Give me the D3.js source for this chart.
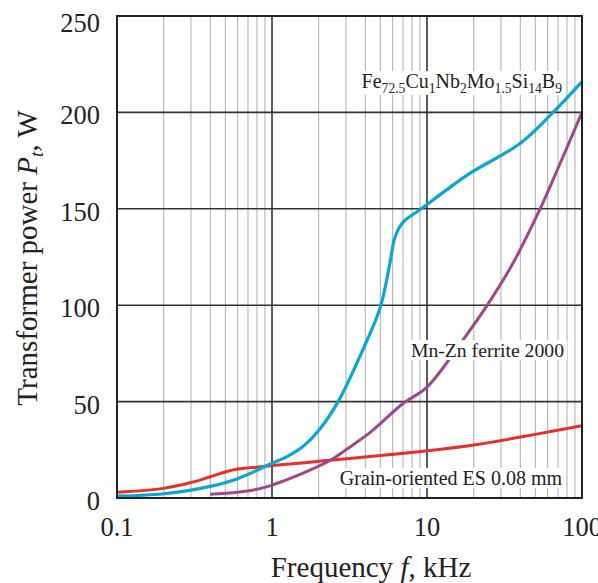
<!DOCTYPE html>
<html>
<head>
<meta charset="utf-8">
<script src="https://cdn.jsdelivr.net/npm/d3@7"></script>
<style>
body{margin:0;background:#fff;}
text{font-family:"Liberation Serif","DejaVu Serif",serif;fill:#222;}
</style>
</head>
<body>
<div class="chart"></div>
<script>
var w = 598, h = 583;

// curves, [frequency kHz, power W]
var feCurve = [[0.1,1],[0.2,2.2],[0.4,6],[0.6,10],[1,18],[1.25,21.5],[1.6,27],[2,35],[2.67,50],[3.86,77],[5,99],[5.8,123],[6.2,135],[7,143],[9,149.5],[14,161],[19,168.5],[40,184],[65,200],[100,216]];
var ferriteCurve = [[0.4,2],[0.6,3],[0.8,4.5],[1,6.7],[1.3,10],[1.6,13],[2.4,19.7],[3,25],[4.3,34],[7,49],[10,57.5],[17.6,83.5],[24,99],[36,122],[53,149],[65,165],[100,200]];
var esCurve = [[0.1,3],[0.2,5],[0.3,8],[0.4,11],[0.5,13.5],[0.6,15],[0.8,16],[1,16.8],[2,19],[5,22],[10,24.5],[20,27.5],[50,33],[100,37.5]];

var xTicks = [0.1, 1, 10, 100];
var yTicks = [0, 50, 100, 150, 200, 250];

var svg = d3.select('.chart').append('svg')
            .attr('width', w)
            .attr('height', h);

var x = d3.scaleLog().domain([0.1, 100]).range([117, 582]);
var y = d3.scaleLinear().domain([0, 250]).range([498, 16]);

// minor vertical grid
var minor = x.ticks().filter(function (d) { return xTicks.indexOf(d) < 0; });
svg.selectAll('.vminor').data(minor).enter().append('line')
   .attr('x1', function (d) { return x(d); }).attr('x2', function (d) { return x(d); })
   .attr('y1', y(250)).attr('y2', y(0))
   .attr('stroke', '#b4b4b4').attr('stroke-width', 1.1);

svg.selectAll('.vmajor').data(xTicks).enter().append('line')
   .attr('x1', function (d) { return x(d); }).attr('x2', function (d) { return x(d); })
   .attr('y1', y(250)).attr('y2', y(0))
   .attr('stroke', '#333').attr('stroke-width', 1.6);

svg.selectAll('.hmajor').data(yTicks).enter().append('line')
   .attr('x1', x(0.1)).attr('x2', x(100))
   .attr('y1', function (d) { return y(d); }).attr('y2', function (d) { return y(d); })
   .attr('stroke', '#333').attr('stroke-width', 1.6);

var line = d3.line()
   .x(function (d) { return x(d[0]); })
   .y(function (d) { return y(d[1]); })
   .curve(d3.curveCatmullRom.alpha(0.5));

svg.append('path').datum(esCurve).attr('d', line)
   .attr('fill', 'none').attr('stroke', '#e8302a').attr('stroke-width', 3);
svg.append('path').datum(ferriteCurve).attr('d', line)
   .attr('fill', 'none').attr('stroke', '#a2468c').attr('stroke-width', 3);
svg.append('path').datum(feCurve).attr('d', line)
   .attr('fill', 'none').attr('stroke', '#0aa6d4').attr('stroke-width', 3.2);

// labels with white boxes (on top of curves)
function label(parts, xx, yy, size) {
  var g = svg.append('g');
  var t = g.append('text').attr('x', xx).attr('y', yy).attr('font-size', size).attr('text-anchor', 'end');
  var off = 0;
  parts.forEach(function (p) {
    var target = p[1] ? size * 0.24 : 0;
    t.append('tspan').text(p[0])
     .attr('font-size', p[1] ? size * 0.68 : size)
     .attr('dy', target - off);
    off = target;
  });
  var b = t.node().getBBox();
  g.insert('rect', 'text').attr('x', b.x - 3).attr('y', b.y + 1).attr('width', b.width + 6).attr('height', b.height - 2).attr('fill', '#fff');
}

label([['Fe'],['72.5',1],['Cu'],['1',1],['Nb'],['2',1],['Mo'],['1.5',1],['Si'],['14',1],['B'],['9',1]], 562, 88, 20);
label([['Mn-Zn ferrite 2000']], 564, 357, 19.7);
label([['Grain-oriented ES 0.08 mm']], 562, 485, 20);

// frame
svg.append('rect').attr('x', x(0.1)).attr('y', y(250))
   .attr('width', x(100) - x(0.1)).attr('height', y(0) - y(250))
   .attr('fill', 'none').attr('stroke', '#222').attr('stroke-width', 2);

// tick labels
svg.selectAll('.xl').data(xTicks).enter().append('text')
   .attr('x', function (d) { return x(d); }).attr('y', 536)
   .attr('text-anchor', 'middle').attr('font-size', 26.5)
   .text(function (d) { return d; });

svg.selectAll('.yl').data(yTicks).enter().append('text')
   .attr('x', 100).attr('y', function (d) { return Math.max(y(d) + 12, 32); })
   .attr('text-anchor', 'end').attr('font-size', 26.5)
   .text(function (d) { return d; });

// axis titles
var xt = svg.append('text').attr('x', 371).attr('y', 577)
   .attr('text-anchor', 'middle').attr('font-size', 29);
xt.append('tspan').text('Frequency ');
xt.append('tspan').text('f').attr('font-style', 'italic');
xt.append('tspan').text(', kHz');

var yt = svg.append('text').attr('transform', 'translate(37,258) rotate(-90)')
   .attr('text-anchor', 'middle').attr('font-size', 29);
yt.append('tspan').text('Transformer power ');
yt.append('tspan').text('P').attr('font-style', 'italic');
yt.append('tspan').text('t').attr('font-style', 'italic').attr('font-size', 19).attr('dy', 6);
yt.append('tspan').text(', W').attr('dy', -6);
</script>
</body>
</html>
